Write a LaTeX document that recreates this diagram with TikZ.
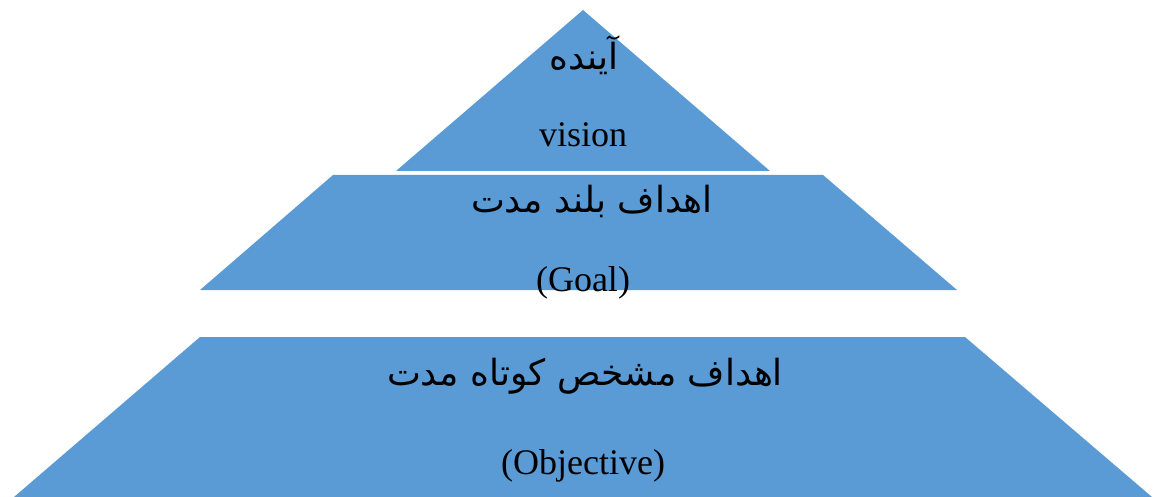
\documentclass[tikz,border=0pt]{standalone}
\usepackage{fontspec}
\setmainfont{Liberation Serif}
\newfontfamily\arabicfont[Script=Arabic]{DejaVu Sans}
\TeXXeTstate=1
\definecolor{levelblue}{HTML}{5B9BD5}

\begin{document}
\begin{tikzpicture}[x=1pt, y=-1pt,
    latin/.style={font=\fontsize{36}{40}\selectfont},
    persian/.style={font=\arabicfont\fontsize{36}{42}\selectfont}]
      \useasboundingbox (0,0) rectangle (1153,497);
      % the three levels
      \fill[levelblue] (583,10) -- (770,171) -- (396,171) -- cycle;
      \fill[levelblue] (333,175) -- (823,175) -- (957,290) -- (200,290) -- cycle;
      \fill[levelblue] (200,337) -- (965,337) -- (1152,497) -- (14,497) -- cycle;
      % labels
      \node [persian] (vision fa) at (584,55) {\beginR آینده\endR};
      \node [latin] (vision en) at (583,135) {vision};
      \node [persian] (goal fa) at (592,201) {\beginR اهداف بلند مدت\endR};
      \node [latin] (goal en) at (583,283) {(Goal)};
      \node [persian] (objective fa) at (585,376) {\beginR اهداف مشخص کوتاه مدت\endR};
      \node [latin] (objective en) at (583,466) {(Objective)};
\end{tikzpicture}
\end{document}
